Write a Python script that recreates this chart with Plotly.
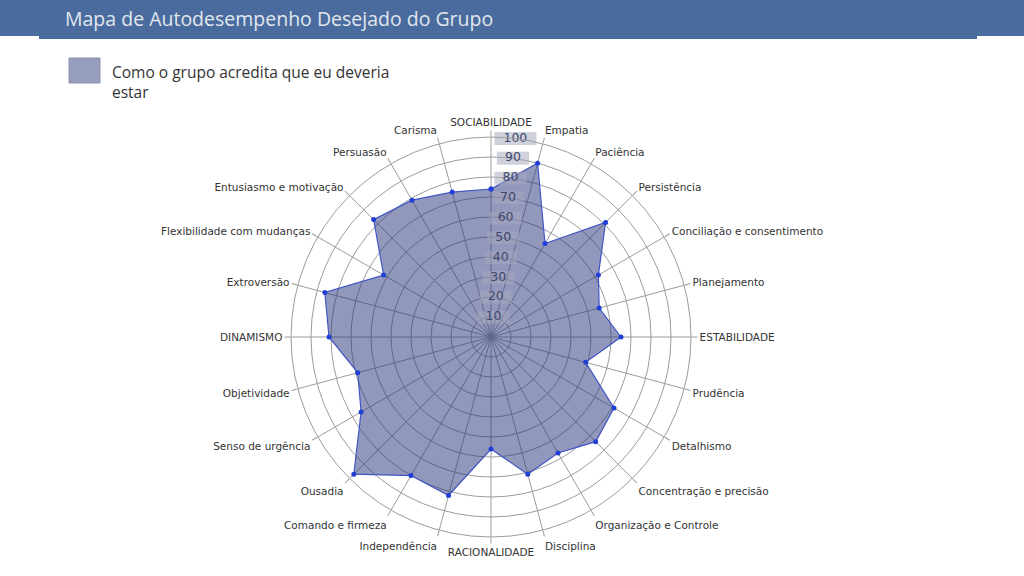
import plotly.graph_objects as go

# categories clockwise from the top
cats = ["SOCIABILIDADE", "Empatia", "Paciência", "Persistência",
        "Conciliação e consentimento", "Planejamento", "ESTABILIDADE",
        "Prudência", "Detalhismo", "Concentração e precisão",
        "Organização e Controle", "Disciplina", "RACIONALIDADE",
        "Independência", "Comando e firmeza", "Ousadia", "Senso de urgência",
        "Objetividade", "DINAMISMO", "Extroversão",
        "Flexibilidade com mudanças", "Entusiasmo e motivação", "Persuasão",
        "Carisma"]
values = [74, 90, 54, 81, 62, 56, 65, 49, 71, 74, 67, 71,
          56, 82, 80, 97, 75, 69, 81, 86, 62, 83, 79, 75]
radial_ticks = [10, 20, 30, 40, 50, 60, 70, 80, 90, 100]

series_name = "Como o grupo acredita que eu deveria<br>estar"
title = "Mapa de Autodesempenho Desejado do Grupo"

step = 360 / len(cats)
thetas = [i * step for i in range(len(cats))]

W, H = 1024, 576
grid = "#9c9c9c"
box = "rgba(165,168,190,0.75)"

fig = go.Figure()

fig.add_trace(go.Scatterpolar(
    r=values + values[:1], theta=thetas + thetas[:1],
    mode="lines+markers", fill="toself",
    fillcolor="rgba(38,48,122,0.5)",
    line=dict(color="#3f55c4", width=1.2),
    marker=dict(color="#1f3fd6", size=5),
    name="Como o grupo acredita que eu deveria estar",
    showlegend=False,
))

# radial tick labels on soft grey boxes
fig.add_trace(go.Scatterpolar(
    r=radial_ticks, theta=[7] * len(radial_ticks),
    mode="markers+text",
    text=[str(t) for t in radial_ticks],
    textposition="middle center",
    textfont=dict(family="DejaVu Sans", size=12.5, color="#41466c"),
    marker=dict(symbol="line-ew",
                size=[30 if t >= 100 else 23 for t in radial_ticks],
                color=box, line=dict(width=13, color=box)),
    hoverinfo="skip", showlegend=False,
))

fig.update_layout(
    width=W, height=H,
    margin=dict(l=0, r=0, t=0, b=0),
    paper_bgcolor="white",
    polar=dict(
        domain=dict(x=[291 / W, 691 / W], y=[(H - 537) / H, (H - 137) / H]),
        bgcolor="white",
        radialaxis=dict(range=[0, 100], tickvals=radial_ticks,
                        showticklabels=False, ticks="", showline=False,
                        gridcolor=grid, gridwidth=1),
        angularaxis=dict(rotation=90, direction="clockwise",
                         tickmode="array", tickvals=thetas, ticktext=cats,
                         tickfont=dict(family="DejaVu Sans", size=10.5,
                                       color="#333"),
                         ticks="outside", ticklen=6, tickcolor=grid,
                         showline=True, linecolor=grid, linewidth=1,
                         gridcolor=grid, gridwidth=1),
    ),
)

# header band
fig.add_shape(type="rect", xref="paper", yref="paper",
              x0=0, x1=1, y0=1 - 36 / H, y1=1,
              fillcolor="#4a6b9d", line_width=0, layer="below")
fig.add_shape(type="rect", xref="paper", yref="paper",
              x0=39 / W, x1=977 / W, y0=1 - 39 / H, y1=1,
              fillcolor="#4a6b9d", line_width=0, layer="below")
fig.add_annotation(text=title, xref="paper", yref="paper",
                   x=63 / W, y=1 - 18 / H, xanchor="left", yanchor="middle",
                   showarrow=False,
                   font=dict(family="Open Sans", size=19.5, color="#e1e7ef"))

# legend drawn by hand
fig.add_shape(type="rect", xref="paper", yref="paper",
              x0=69 / W, x1=100 / W, y0=1 - 83 / H, y1=1 - 58 / H,
              fillcolor="#979dbd", line=dict(color="#8a90b2", width=1))
fig.add_annotation(text=series_name, xref="paper", yref="paper",
                   x=110 / W, y=1 - 59 / H, xanchor="left", yanchor="top",
                   align="left", showarrow=False,
                   font=dict(family="Open Sans", size=15.5, color="#333"))

fig.write_html("out.html", config={"displayModeBar": False},
               post_script="document.body.style.margin='0';")
